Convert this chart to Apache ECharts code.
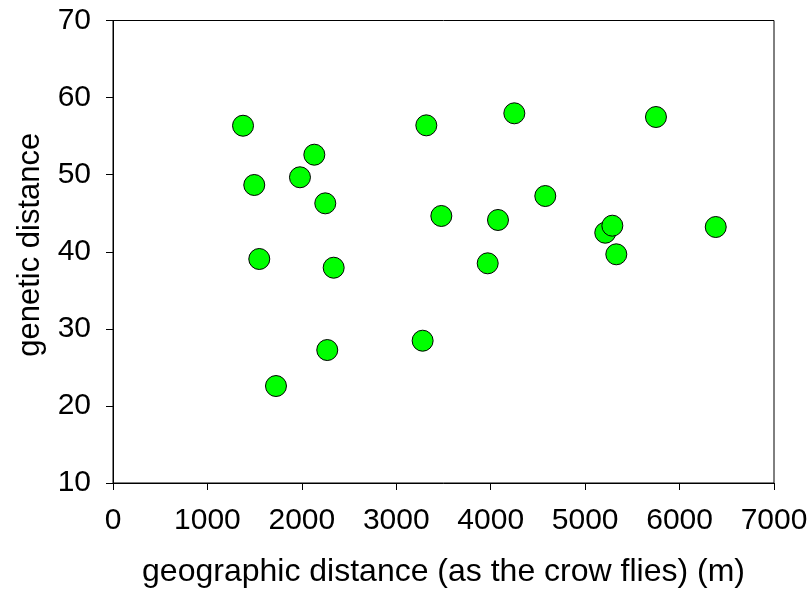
<!DOCTYPE html>
<html>
<head>
<meta charset="utf-8">
<script src="https://cdn.jsdelivr.net/npm/echarts@6/dist/echarts.min.js"></script>
<style>
html,body{margin:0;padding:0;background:#fff;}
#chart{width:809px;height:592px;}
</style>
</head>
<body>
<div id="chart"></div>
<script>
const geoDistance = [1377, 1496, 1549, 1726, 1980, 2132, 2248, 2269, 2337, 3279, 3318, 3477, 3968, 4077, 4250, 4578, 5213, 5288, 5330, 5750, 6383];
const geneticDistance = [56.35, 48.66, 39.06, 22.58, 49.66, 52.59, 46.28, 27.25, 37.93, 28.46, 56.40, 44.64, 38.5, 44.12, 57.96, 47.23, 42.47, 43.38, 39.67, 57.48, 43.21];
const xTitle = 'geographic distance (as the crow flies) (m)';
const yTitle = 'genetic distance';

const points = geoDistance.map((x, i) => [x, geneticDistance[i]]);
const FONT = '"Liberation Sans", Arial, sans-serif';

const chart = echarts.init(document.getElementById('chart'), null, {renderer: 'canvas'});
chart.setOption({
  animation: false,
  backgroundColor: '#ffffff',
  grid: {
    left: 113, top: 20.5, right: 35, bottom: 109,
    outerBoundsMode: 'none', containLabel: false,
    show: true, borderColor: '#000', borderWidth: 1, backgroundColor: 'transparent'
  },
  xAxis: {
    type: 'value', min: 0, max: 7000, interval: 1000,
    name: xTitle, nameLocation: 'middle', nameGap: 73,
    nameTextStyle: {fontFamily: FONT, fontSize: 32, color: '#000'},
    axisLine: {show: true, lineStyle: {color: '#000', width: 1}},
    axisTick: {show: true, inside: false, length: 7, lineStyle: {color: '#000'}},
    axisLabel: {fontFamily: FONT, fontSize: 30, color: '#000', margin: 23,
      formatter: v => String(v)},
    splitLine: {show: false}
  },
  yAxis: {
    type: 'value', min: 10, max: 70, interval: 10,
    name: yTitle, nameLocation: 'middle', nameGap: 67, nameRotate: 90,
    nameTextStyle: {fontFamily: FONT, fontSize: 31, color: '#000', padding: [0, 0, 0, 14]},
    axisLine: {show: true, lineStyle: {color: '#000', width: 1}},
    axisTick: {show: true, inside: false, length: 7, lineStyle: {color: '#000'}},
    axisLabel: {fontFamily: FONT, fontSize: 30, color: '#000', margin: 22},
    splitLine: {show: false}
  },
  series: [{
    type: 'scatter',
    data: points,
    symbol: 'circle',
    symbolSize: 21,
    itemStyle: {color: '#00ff00', borderColor: '#000', borderWidth: 1, opacity: 1}
  }]
});
</script>
</body>
</html>
